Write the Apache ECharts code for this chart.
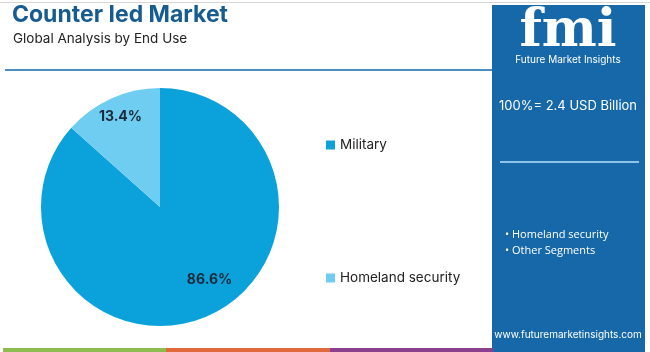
<!DOCTYPE html>
<html>
<head>
<meta charset="utf-8">
<script src="https://cdn.jsdelivr.net/npm/echarts@6/dist/echarts.min.js"></script>
<style>
html,body{margin:0;padding:0;background:#fff;}
#main{width:650px;height:352px;}
</style>
</head>
<body>
<div id="main"></div>
<script>
// data
let segments = ['Military', 'Homeland security'];
let shares = [86.6, 13.4];
let sliceColors = ['#0ba2dc', '#6fcdf2'];
let panelBullets = ['Homeland security', 'Other Segments'];

// label nudges so the % sits where the original had it
let labelShift = [[24, 16], [-14, -33]];

let myChart = echarts.init(document.getElementById('main'));

let pieData = [];
for (let i = 0; i < segments.length; i++) {
    pieData.push({ name: segments[i], value: shares[i], itemStyle: { color: sliceColors[i] } });
}

let option = {
    animation: false,
    legend: {
        orient: 'vertical',
        left: 321,
        top: 133,
        itemGap: 119,
        icon: 'rect',
        itemWidth: 9,
        itemHeight: 9,
        itemTextGap: 5,
        data: segments,
        textStyle: { fontFamily: 'Inter', fontSize: 13.5, color: '#222' }
    },
    series: [{
        type: 'pie',
        center: [160, 207],
        radius: 119,
        startAngle: 90,
        clockwise: true,
        silent: true,
        label: {
            show: true,
            position: 'inside',
            formatter: function (p) { return p.value.toFixed(1) + '%'; },
            fontFamily: 'Inter',
            fontWeight: 'bold',
            fontSize: 14,
            color: '#1b2a38'
        },
        labelLine: { show: false },
        labelLayout: function (p) {
            return { dx: labelShift[p.dataIndex][0], dy: labelShift[p.dataIndex][1] };
        },
        data: pieData
    }],
    graphic: [
        // top hairline
        { type: 'rect', shape: { x: 0, y: 2, width: 650, height: 1 }, style: { fill: '#d6d6d6' } },
        { type: 'text', left: 12, top: 4, style: { text: 'Counter Ied Market', fontFamily: 'Inter', fontWeight: 'bold', fontSize: 23, fill: '#165c91' } },
        { type: 'text', left: 13, top: 32, style: { text: 'Global Analysis by End Use', fontFamily: 'Inter', fontSize: 13.5, fill: '#222' } },
        { type: 'rect', shape: { x: 5, y: 69, width: 488, height: 2 }, style: { fill: '#4d8fc4' } },
        // right panel
        { type: 'rect', shape: { x: 492, y: 5, width: 153, height: 347 }, style: { fill: '#1668a8' } },
        { type: 'text', x: 568, y: 6, style: { text: 'fmi', fontFamily: 'DejaVu Serif', fontWeight: 'bold', fontSize: 52, fill: '#ffffff', align: 'center' } },
        { type: 'text', x: 568, y: 55, style: { text: 'Future Market Insights', fontFamily: 'Inter', fontSize: 10, fill: '#ffffff', align: 'center' } },
        { type: 'text', x: 568, y: 100, style: { text: '100%= 2.4 USD Billion', fontFamily: 'Inter', fontSize: 13, fill: '#ffffff', align: 'center' } },
        { type: 'rect', shape: { x: 500, y: 161, width: 139, height: 2 }, style: { fill: '#8fc4ea' } },
        { type: 'text', left: 505, top: 229, style: { text: '• ' + panelBullets[0], fontFamily: 'Open Sans', fontSize: 11, fill: '#ffffff' } },
        { type: 'text', left: 505, top: 245, style: { text: '• ' + panelBullets[1], fontFamily: 'Open Sans', fontSize: 11, fill: '#ffffff' } },
        { type: 'text', x: 568, y: 330, style: { text: 'www.futuremarketinsights.com', fontFamily: 'Inter', fontSize: 10, fill: '#ffffff', align: 'center' } },
        // bottom colour strip
        { type: 'rect', shape: { x: 3, y: 348, width: 163, height: 4 }, style: { fill: '#8dbd4e' } },
        { type: 'rect', shape: { x: 166, y: 348, width: 164, height: 4 }, style: { fill: '#e06a3b' } },
        { type: 'rect', shape: { x: 330, y: 348, width: 163, height: 4 }, style: { fill: '#8b3f8e' } }
    ]
};

myChart.setOption(option);

window.addEventListener('resize', function () {
    myChart.resize();
});
</script>
</body>
</html>
